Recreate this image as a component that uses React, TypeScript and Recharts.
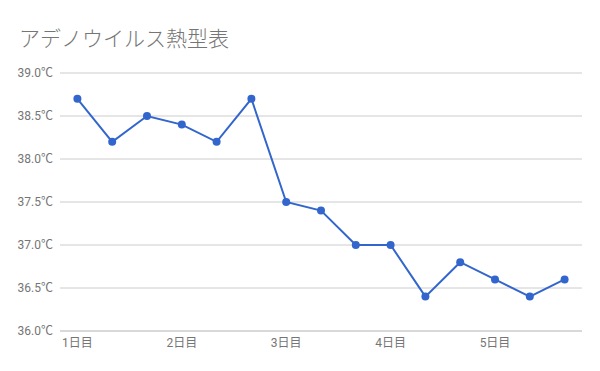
import React from 'react';
import { LineChart, Line, XAxis, YAxis, CartesianGrid } from 'recharts';

const dayLabels = ['1日目', '2日目', '3日目', '4日目', '5日目'];
const pointIndex = [0, 1, 2, 3, 4, 5, 6, 7, 8, 9, 10, 11, 12, 13, 14];
const temperatures = [38.7, 38.2, 38.5, 38.4, 38.2, 38.7, 37.5, 37.4, 37.0, 37.0, 36.4, 36.8, 36.6, 36.4, 36.6];
const yTicks = [36.0, 36.5, 37.0, 37.5, 38.0, 38.5, 39.0];
const xTicks = [0, 3, 6, 9, 12];

const data = pointIndex.map((i) => ({ x: i, t: temperatures[i] }));

const font = 'Roboto, "Noto Sans CJK JP", sans-serif';

export default function App() {
  return (
    <div style={{ position: 'absolute', left: 0, top: 0, width: 600, height: 371, background: '#fff' }}>
      <svg style={{ position: 'absolute', left: 0, top: 0 }} width={600} height={60}>
        <text x={19} y={46} fontSize={21} fill="#757575" fontFamily='"Noto Sans CJK JP", sans-serif' fontWeight={300}>
          アデノウイルス熱型表
        </text>
      </svg>
      <div style={{ position: 'absolute', left: 0, top: 0 }}>
        <LineChart width={600} height={371} data={data} margin={{ top: 73, right: 18, left: 0, bottom: 10 }}>
          <CartesianGrid horizontal vertical={false} stroke="#cccccc" />
          <XAxis
            dataKey="x"
            type="number"
            domain={[-0.5, 14.5]}
            ticks={xTicks}
            tickFormatter={(v: number) => dayLabels[v / 3]}
            axisLine={{ stroke: '#cccccc' }}
            tickLine={false}
            tickSize={6}
            tickMargin={1}
            height={30}
            tick={{ fill: '#757575', fontSize: 12, fontFamily: font }}
            interval={0}
          />
          <YAxis
            type="number"
            domain={[36, 39]}
            ticks={yTicks}
            width={60}
            axisLine={false}
            tickLine={false}
            tickSize={6}
            tickMargin={1}
            tickFormatter={(v: number) => v.toFixed(1) + '℃'}
            tick={{ fill: '#757575', fontSize: 12, fontFamily: font }}
            interval={0}
          />
          <Line
            dataKey="t"
            type="linear"
            stroke="#3366cc"
            strokeWidth={2}
            dot={{ r: 4, fill: '#3366cc', stroke: '#3366cc', strokeWidth: 0 }}
            activeDot={false}
            isAnimationActive={false}
          />
        </LineChart>
      </div>
    </div>
  );
}
